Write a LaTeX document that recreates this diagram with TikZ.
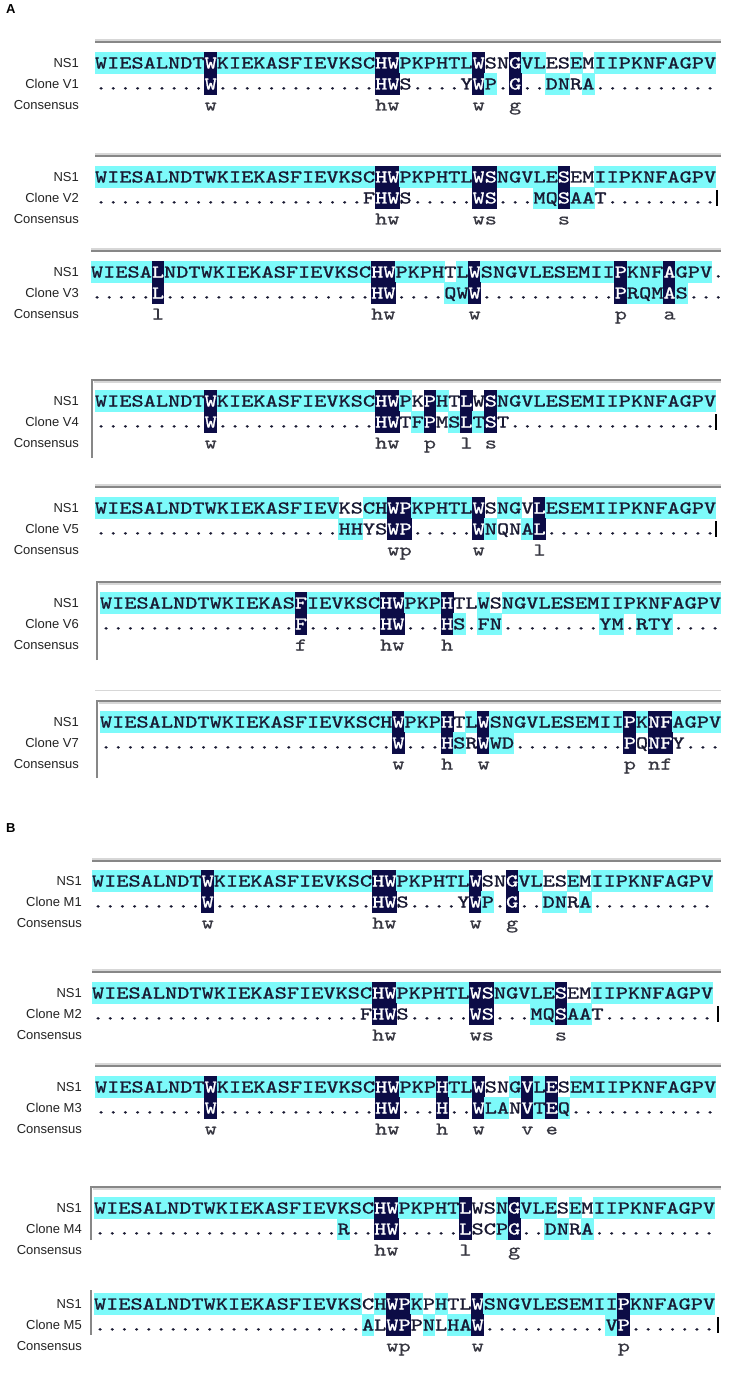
\documentclass[tikz,border=0pt]{standalone}
\usepackage{fontspec}
\setmainfont{Liberation Sans}
\newfontfamily\seqfont{lmmono10-regular.otf}[FakeStretch=1.29,FakeBold=1.2]
\newfontfamily\consfont{lmmono10-regular.otf}[FakeStretch=1.29,FakeBold=0.5]
\definecolor{cyanbg}{RGB}{125,250,250}
\definecolor{navybg}{RGB}{12,12,70}
\definecolor{seqink}{RGB}{25,25,50}
\definecolor{consink}{RGB}{55,55,65}
\definecolor{labink}{RGB}{35,35,35}
\definecolor{hdrdarkc}{RGB}{135,135,135}
\definecolor{hdrlitec}{RGB}{215,215,215}
\tikzset{
  seq/.style={font=\seqfont\fontsize{18}{18}\selectfont, inner sep=0pt, anchor=base, text=seqink},
  cons/.style={font=\consfont\fontsize{18}{18}\selectfont, inner sep=0pt, anchor=base, text=consink},
  lab/.style={font=\fontsize{13}{13}\selectfont, inner sep=0pt, anchor=base east, text=labink},
  panel/.style={font=\bfseries\fontsize{13}{13}\selectfont, inner sep=0pt, anchor=north west},
  hdrdark/.style={draw=hdrdarkc, line width=2pt},
  hdrlite/.style={draw=hdrlitec, line width=1.6pt},
  cursor/.style={draw=black, line width=1.4pt},
}
\newcount\cidx
\def\xL{95}
\def\pitch{12.18}
\def\drawcell#1#2{%
  \pgfmathsetmacro\cx{\xL+(\the\cidx-0.5)*\pitch}%
  \edef\cellname{\rowname-\the\cidx}%
  \if c#2\relax
    \fill[cyanbg] ({\cx-\pitch/2-0.3},{\rowy-11}) rectangle ({\cx+\pitch/2+0.3},{\rowy+11});%
    \node[seq] (\cellname) at (\cx,{\rowy+5.5}) {#1};%
  \else\if n#2\relax
    \fill[navybg] ({\cx-\pitch/2-0.3},{\rowy-11}) rectangle ({\cx+\pitch/2+0.3},{\rowy+11});%
    \node[seq,text=white] (\cellname) at (\cx,{\rowy+5.5}) {#1};%
  \else
    \node[seq] (\cellname) at (\cx,{\rowy+5.5}) {#1};%
  \fi\fi}
\def\rowloop#1#2\end#3#4\end{%
  \ifx!#1\let\seqnext\relax
  \else
    \global\advance\cidx by 1
    \drawcell{#1}{#3}%
    \def\seqnext{\rowloop#2\end#4\end}%
  \fi
  \seqnext}
\newcommand\seqrow[4]{\global\cidx=0 \def\rowname{#1}\def\rowy{#2}\rowloop#3!\end#4!\end}
\newcommand\consrow[3]{\def\rowy{#2}%
  \foreach \c/\ch in {#3}{\node[cons] (#1-\c) at ({\xL+(\c-0.5)*\pitch},{\rowy+5.5}) {\ch};}}
\newcommand\alignblock[9]{%
  \def\xL{#2}%
  \node[lab] (#1-l1) at (#9,{#3+4.5}) {NS1};
  \node[lab] (#1-l2) at (#9,{#3+21+4.5}) {#4};
  \node[lab] (#1-l3) at (#9,{#3+42+4.5}) {Consensus};
  \seqrow{#1-n}{#3}{WIESALNDTW KIEKASFIEV KSCHWPKPHT LWSNGVLESE MIIPKNFAGP V}{#5}%
  \seqrow{#1-c}{#3+21}{#6}{#7}%
  \consrow{#1-k}{#3+42}{#8}}
\newcommand\plainhdr[2]{\draw[hdrlite] (#1,#2-2) -- (721,#2-2); \draw[hdrdark] (#1,#2) -- (721,#2);}
\newcommand\boxhdr[3]{\draw[hdrlite] (#1+1.5,#2+2) -- (721,#2+2); \draw[hdrdark] (#1,#3) -- (#1,#2) -- (721,#2);}
\begin{document}
\begin{tikzpicture}[x=1pt,y=-1pt]
\useasboundingbox[fill=white] (0,0) rectangle (728,1380);
\node[panel] (pA) at (6,4) {A};
\node[panel] (pB) at (6,823) {B};
% ---------- V1
\plainhdr{95}{42}
\alignblock{v1}{95}{63}{Clone V1}
 {cccccccccn cccccccccc cccnnccccc cn--ncc--c -ccccccccc c}
 {.........W .......... ...HWS.... YWP.G..DNR A......... .}
 {---------n ---------- ---nn----- -nc-n--cc- c--------- -}
 {10/w,24/h,25/w,32/w,35/g}{79}
% ---------- V2
\plainhdr{95}{156}
\alignblock{v2}{95}{177}{Clone V2}
 {cccccccccc cccccccccc cccnnccccc cnncccccn- -ccccccccc c}
 {.......... .......... ..FHWS.... .WS...MQSA AT........ .}
 {---------- ---------- ---nn----- -nn---ccnc c--------- -}
 {24/h,25/w,32/w,33/s,39/s}{79}
\draw[cursor] (717,190) -- (717,206);
% ---------- V3
\plainhdr{91}{251}
\def\xL{91}
\node[lab] (v3-l1) at (79,276.5) {NS1};
\node[lab] (v3-l2) at (79,297.5) {Clone V3};
\node[lab] (v3-l3) at (79,318.5) {Consensus};
\seqrow{v3-n}{272}{WIESALNDTW KIEKASFIEV KSCHWPKPHT LWSNGVLESE MIIPKNFAGP V.}
 {cccccncccc cccccccccc cccnncccc- cncccccccc cccncccncc c-}
\seqrow{v3-c}{293}{.....L.... .......... ...HW....Q WW........ ...PRQMAS. ..}
 {-----n---- ---------- ---nn----c cn-------- ---ncccnc- --}
\consrow{v3-k}{314}{6/l,24/h,25/w,32/w,44/p,48/a}
% ---------- V4
\boxhdr{92}{380}{458}
\alignblock{v4}{95}{401}{Clone V4}
 {cccccccccn cccccccccc cccnnc-nc- n-nccccccc cccccccccc c}
 {.........W .......... ...HWTFPMS LTST...... .......... .}
 {---------n ---------- ---nn-cn-c ncn------- ---------- -}
 {10/w,24/h,25/w,28/p,31/l,33/s}{79}
\draw[cursor] (716,414) -- (716,430);
% ---------- V5
\plainhdr{95}{487}
\alignblock{v5}{95}{508}{Clone V5}
 {cccccccccc cccccccccc --ccnncccc cn-cc-nccc cccccccccc c}
 {.......... .......... HHYSWP.... .WNQNAL... .......... .}
 {---------- ---------- cc--nn---- -nc--cn--- ---------- -}
 {25/w,26/p,32/w,37/l}{79}
\draw[cursor] (716,521) -- (716,537);
% ---------- V6
\boxhdr{97}{582}{660}
\alignblock{v6}{100}{603}{Clone V6}
 {cccccccccc ccccccnccc cccnncccn- -c-ccccccc cccccccccc c}
 {.......... ......F... ...HW...HS .FN....... .YM.RTY... .}
 {---------- ------n--- ---nn---nc -cc------- -cc-ccc--- -}
 {17/f,24/h,25/w,29/h}{79}
% ---------- V7
\draw[draw=hdrlitec, line width=1pt] (95,690) -- (721,690);
\boxhdr{97}{701}{778}
\alignblock{v7}{100}{722}{Clone V7}
 {cccccccccc cccccccccc ccccncccn- cncccccccc cccncnnccc c}
 {.......... .......... ....W...HS RWWD...... ...PQNFY.. .}
 {---------- ---------- ----n---nc -ncc------ ---n-nn--- -}
 {25/w,29/h,32/w,44/p,46/n,47/f}{79}
% ---------- M1
\plainhdr{92}{861}
\alignblock{m1}{92}{881}{Clone M1}
 {cccccccccn cccccccccc cccnnccccc cn--ncc--c -ccccccccc c}
 {.........W .......... ...HWS.... YWP.G..DNR A......... .}
 {---------n ---------- ---nn----- -nc-n--cc- c--------- -}
 {10/w,24/h,25/w,32/w,35/g}{82}
% ---------- M2
\plainhdr{92}{972}
\alignblock{m2}{92}{993}{Clone M2}
 {cccccccccc cccccccccc cccnnccccc cnncccccn- -ccccccccc c}
 {.......... .......... ..FHWS.... .WS...MQSA AT........ .}
 {---------- ---------- ---nn----- -nn---ccnc c--------- -}
 {24/h,25/w,32/w,33/s,39/s}{82}
\draw[cursor] (718,1006) -- (718,1022);
% ---------- M3
\plainhdr{95}{1066}
\alignblock{m3}{95}{1087}{Clone M3}
 {cccccccccn cccccccccc cccnncccnc cn--cncn-c cccccccccc c}
 {.........W .......... ...HW...H. .WLANVTEQ. .......... .}
 {---------n ---------- ---nn---n- -ncc-ncnc- ---------- -}
 {10/w,24/h,25/w,29/h,32/w,36/v,38/e}{82}
% ---------- M4
\boxhdr{91}{1187}{1240}
\alignblock{m4}{94}{1208}{Clone M4}
 {cccccccccc cccccccccc cccnnccccc n--cnccc-c -ccccccccc c}
 {.......... .......... R..HW..... LSCPG..DNR A......... .}
 {---------- ---------- c--nn----- n--cn--cc- c--------- -}
 {24/h,25/w,31/l,35/g}{82}
% ---------- M5
\draw[hdrdark] (91,1290) -- (91,1335);
\alignblock{m5}{94}{1304}{Clone M5}
 {cccccccccc cccccccccc cc-cnnc-c- -ncccccccc cccncccccc c}
 {.......... .......... ..ALWPPNLH AW........ ..VP...... .}
 {---------- ---------- --c-nn-c-c cn-------- --cn------ -}
 {25/w,26/p,32/w,44/p}{82}
\draw[cursor,line width=2.2pt] (718,1317) -- (718,1333);
\end{tikzpicture}
\end{document}
